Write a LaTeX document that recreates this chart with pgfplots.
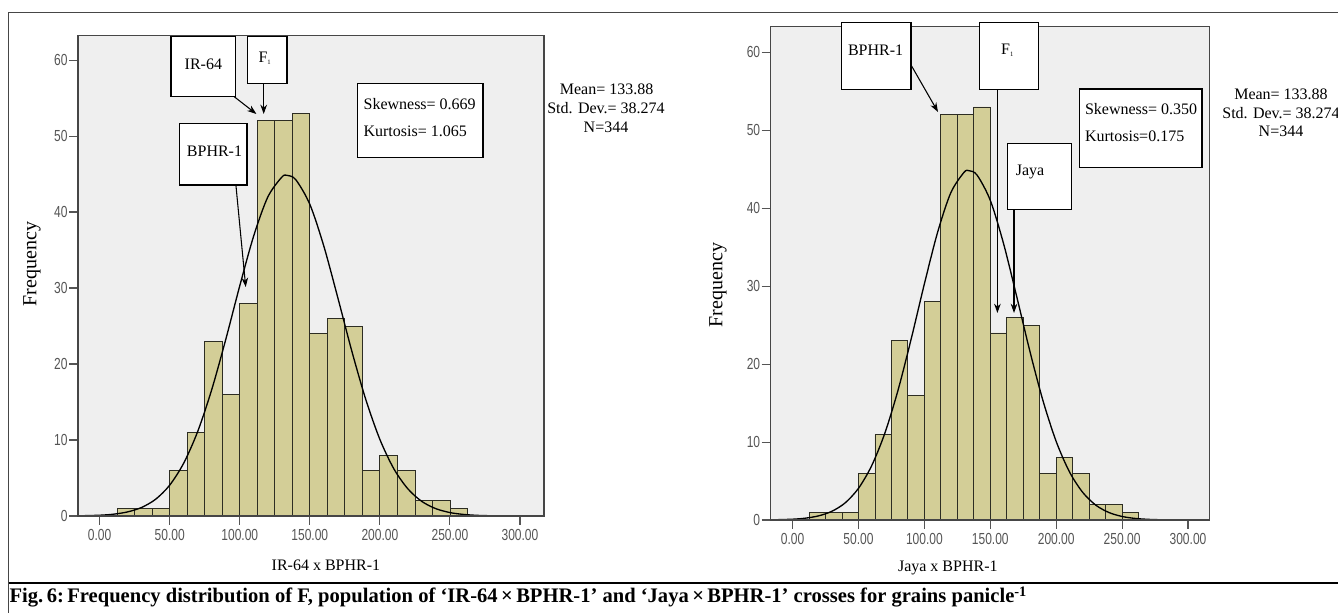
\documentclass[border=0pt]{standalone}
\usepackage{pgfplots}
\pgfplotsset{compat=1.18}
\usepackage{graphicx}
\usepackage{fontspec}
\setmainfont{Liberation Serif}
\newfontfamily\tickfont{Liberation Sans}[FakeStretch=0.75]
\usetikzlibrary{arrows.meta}

\definecolor{plotbg}{RGB}{239,239,239}
\definecolor{barcol}{RGB}{211,206,151}
\definecolor{barline}{RGB}{45,45,35}
\definecolor{framecol}{RGB}{70,70,70}
\definecolor{tickcol}{RGB}{85,85,85}

% histogram (bin edges, frequency) -- same data for both crosses
\def\histdata{(12.5,1) (25,1) (37.5,1) (50,6) (62.5,11) (75,23) (87.5,16) (100,28)
 (112.5,52) (125,52) (137.5,53) (150,24) (162.5,26) (175,25) (187.5,6) (200,8)
 (212.5,6) (225,2) (237.5,2) (250,1) (262.5,1)}
% fitted normal curve, mean 133.88, sd 38.274, N=344
\def\normdata{(-16,0.02) (0,0.10) (10,0.24) (20,0.54) (30,1.13) (40,2.21) (50,4.06)
 (60,6.96) (70,11.13) (80,16.64) (90,23.23) (100,30.29) (110,36.89) (120,41.97)
 (130,44.59) (133.88,44.82) (140,44.25) (150,41.02) (160,35.51) (170,28.71)
 (180,21.68) (190,15.30) (200,10.08) (210,6.20) (220,3.57) (230,1.91) (240,0.96)
 (250,0.45) (260,0.20) (270,0.08) (280,0.03) (290,0.01) (300,0.004) (317,0.001)}

\pgfplotsset{
  histo/.style={
    scale only axis, anchor=south west, axis on top,
    ymin=0,
    axis background/.style={fill=plotbg},
    axis line style={draw=framecol, line width=1.1pt},
    tick align=outside, major tick length=6.5pt,
    xtick pos=bottom, ytick pos=left,
    tick style={draw=tickcol, line width=0.8pt},
    xtick={0,50,...,300},
    xticklabels={0.00,50.00,100.00,150.00,200.00,250.00,300.00},
    ytick={0,10,...,60},
    yticklabels={0,10,20,30,40,50,60},
    ticklabel style={font=\tickfont\fontsize{12}{13}\selectfont, text=tickcol},
    yticklabel style={inner xsep=1pt},
  },
}
\tikzset{
  box/.style={draw=black, fill=white, line width=1.1pt},
  arr/.style={-{Stealth[length=7pt,width=5pt]}, line width=0.8pt},
}

\begin{document}
\begin{tikzpicture}
\clip (0,0) rectangle (1003.5pt,459.75pt);

\begin{axis}[histo, at={(58.35pt,72.75pt)}, width=349.5pt, height=360.2pt,
  xmin=-15.6, xmax=317, ymax=63.2]
\addplot[ybar interval, fill=barcol, draw=barline, line width=0.6pt] coordinates {\histdata};
\addplot[smooth, black, line width=1pt] coordinates {\normdata};
\end{axis}

\begin{axis}[histo, at={(577.8pt,69.75pt)}, width=329.5pt, height=370pt,
  xmin=-16.8, xmax=316.5, ymax=63.3]
\addplot[ybar interval, fill=barcol, draw=barline, line width=0.6pt] coordinates {\histdata};
\addplot[smooth, black, line width=1pt] coordinates {\normdata};
\end{axis}

\begin{scope}[x=0.75pt, y=-0.75pt, yshift=459.75pt]
\fontsize{12}{14}\selectfont
% outer frame and caption
\draw[framecol, line width=0.8pt] (8.5,613) -- (8.5,12.3) -- (1340,12.3);
\draw[black, line width=0.9pt] (8.5,583) -- (1340,583);
\node[anchor=west, inner sep=0pt] at (9.4,597)
  {\resizebox{763pt}{\height}{\fontsize{15.5}{17}\selectfont\bfseries Fig.\,6:\,Frequency distribution of F, population of ‘IR-64\,×\,BPHR-1’ and ‘Jaya\,×\,BPHR-1’ crosses for grains panicle\textsuperscript{-1}}};

% left panel
\node[font=\fontsize{12}{14}\selectfont] at (325.9,565) {IR-64 x BPHR-1};
\node[rotate=90, font=\fontsize{15}{17}\selectfont] at (32,264) {Frequency};
\draw[box] (170.9,36.7) rectangle (235.5,96.7);
\node at (203.4,64) {IR-64};
\draw[box] (247.4,36.7) rectangle (286.8,83.3);
\node at (265,58) {F\textsubscript{\tiny 1}};
\draw[arr] (263.7,83.3) -- (263.7,114);
\draw[arr] (234.2,96.7) -- (256.4,114);
\draw[box] (179.5,123.3) rectangle (247,185);
\node at (214.5,151.7) {BPHR-1};
\draw[arr] (235.9,185) -- (245.7,287);
\draw[box] (357.3,83.3) rectangle (483,157.3);
\node[anchor=west] at (358,104.3) {Skewness= 0.669};
\node[anchor=west] at (358,131) {Kurtosis= 1.065};
\node at (606.6,89.3) {Mean= 133.88};
\node at (606,108.3) {Std. Dev.= 38.274};
\node at (606,127.7) {N=344};

% right panel
\node[font=\fontsize{12}{14}\selectfont] at (947.8,568.3) {Jaya x BPHR-1};
\node[rotate=90, font=\fontsize{15}{17}\selectfont] at (718,285) {Frequency};
\draw[box] (841.4,22.3) rectangle (911,89.3);
\node at (875.6,50.7) {BPHR-1};
\draw[arr] (911,65) -- (938,112);
\draw[box] (979.4,22.3) rectangle (1038.4,89.3);
\node at (1007.6,50) {F\textsubscript{\tiny 1}};
\draw[arr] (997.4,89.3) -- (997.4,313);
\draw[box] (1007.6,143.3) rectangle (1071.7,209.3);
\node at (1030,171.7) {Jaya};
\draw[arr] (1014,209.3) -- (1014,313);
\draw[box] (1079.4,89) rectangle (1202,167.7);
\node[anchor=west] at (1079.4,109.3) {Skewness= 0.350};
\node[anchor=west] at (1079.4,136) {Kurtosis=0.175};
\node at (1281,94.3) {Mean= 133.88};
\node at (1281,112.7) {Std. Dev.= 38.274};
\node at (1281,131.7) {N=344};
\end{scope}
\end{tikzpicture}
\end{document}
